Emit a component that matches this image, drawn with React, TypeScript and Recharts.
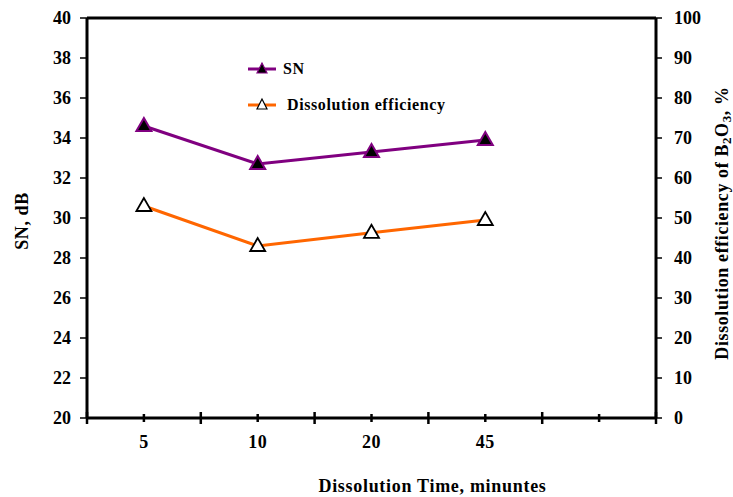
import React from 'react';
import { LineChart, Line, XAxis, YAxis, Legend, ReferenceLine, Label } from 'recharts';

const timeLabels = ['5', '10', '20', '45'];
const snValues = [34.6, 32.7, 33.3, 33.9];
const efficiencyValues = [53, 43, 46.3, 49.5];
const snTicks = [20, 22, 24, 26, 28, 30, 32, 34, 36, 38, 40];
const effTicks = [0, 10, 20, 30, 40, 50, 60, 70, 80, 90, 100];
const slotCount = 5;

const FONT = '"Liberation Serif", "Times New Roman", serif';
const PURPLE = '#800080';
const ORANGE = '#FF6600';

const data = timeLabels.map((t, i) => ({ time: t, pos: i * 2 + 1, sn: snValues[i], eff: efficiencyValues[i] }));
const xTicks = Array.from({ length: slotCount * 2 + 1 }, (_, i) => i);

const Tri = ({ cx, cy, fill, stroke, sw }: any) => (
  <polygon
    points={`${cx},${cy - 8} ${cx - 7.5},${cy + 5} ${cx + 7.5},${cy + 5}`}
    fill={fill}
    stroke={stroke}
    strokeWidth={sw}
    strokeLinejoin="miter"
  />
);

const XTick = (props: any) => {
  const { x, y, payload } = props;
  const v = payload.value;
  const isCenter = v % 2 === 1;
  const label = isCenter ? timeLabels[(v - 1) / 2] ?? '' : '';
  const h = isCenter ? 4 : 6;
  return (
    <g>
      <line x1={x} x2={x} y1={y - h} y2={y + h} stroke="#000" strokeWidth={2.5} />
      {label ? (
        <text x={x} y={y + 30} textAnchor="middle" fontFamily={FONT} fontWeight="bold" fontSize={18} letterSpacing={0.5} fill="#000">
          {label}
        </text>
      ) : null}
    </g>
  );
};

const LegendContent = () => {
  const rows = [
    { name: 'SN', color: PURPLE, fill: '#000', stroke: PURPLE },
    { name: 'Dissolution efficiency', color: ORANGE, fill: '#fff', stroke: '#000' },
  ];
  return (
    <div>
      {rows.map((r, i) => (
        <div key={i} style={{ height: 36, display: 'flex', alignItems: 'center' }}>
          <svg width={36} height={20} style={{ display: 'block' }}>
            <line x1={0} x2={28} y1={10} y2={10} stroke={r.color} strokeWidth={3} />
            <polygon points="14,4 9,14 19,14" fill={r.fill} stroke={r.stroke} strokeWidth={1.2} />
          </svg>
          <span style={{ fontFamily: FONT, fontWeight: 'bold', fontSize: 16, letterSpacing: 0.6, color: '#000', marginLeft: i === 0 ? -1 : 3 }}>
            {r.name}
          </span>
        </div>
      ))}
    </div>
  );
};

const XTitle = (props: any) => {
  const { viewBox } = props;
  const cx = viewBox.x + viewBox.width / 2 + 61;
  return (
    <text x={cx} y={492} textAnchor="middle" fontFamily={FONT} fontWeight="bold" fontSize={18} letterSpacing={0.7} fill="#000">
      Dissolution Time, minuntes
    </text>
  );
};

const LeftTitle = (props: any) => {
  const { viewBox } = props;
  const cx = 22;
  const cy = viewBox.y + viewBox.height / 2 + 3;
  return (
    <text x={cx} y={cy} transform={`rotate(-90, ${cx}, ${cy})`} textAnchor="middle" dominantBaseline="central" fontFamily={FONT} fontWeight="bold" fontSize={18} letterSpacing={0.6} fill="#000">
      SN, dB
    </text>
  );
};

const RightTitle = (props: any) => {
  const { viewBox } = props;
  const cx = 722;
  const cy = viewBox.y + viewBox.height / 2 + 5;
  return (
    <text x={cx} y={cy} transform={`rotate(-90, ${cx}, ${cy})`} textAnchor="middle" dominantBaseline="central" fontFamily={FONT} fontWeight="bold" fontSize={18} letterSpacing={0.6} fill="#000">
      <tspan>Dissolution efficiency of B</tspan>
      <tspan dy={4} fontSize={13}>2</tspan>
      <tspan dy={-4}>O</tspan>
      <tspan dy={4} fontSize={13}>3</tspan>
      <tspan dy={-4}>, %</tspan>
    </text>
  );
};

const tickStyle = { fontFamily: FONT, fontWeight: 'bold' as const, fontSize: 18, fill: '#000' };

export default function App() {
  return (
    <div style={{ position: 'absolute', left: 0, top: 0, width: 733, height: 497, background: '#fff' }}>
      <LineChart width={733} height={497} data={data} margin={{ top: 18, right: 0, bottom: 0, left: 0 }}>
        <XAxis
          dataKey="pos"
          type="number"
          domain={[0, slotCount * 2]}
          ticks={xTicks}
          interval={0}
          tick={<XTick />}
          tickLine={false}
          tickSize={0}
          tickMargin={0}
          axisLine={{ stroke: '#000', strokeWidth: 3 }}
          height={79}
        >
          <Label content={<XTitle />} />
        </XAxis>
        <YAxis
          yAxisId="left"
          domain={[20, 40]}
          ticks={snTicks}
          interval={0}
          width={87}
          tickSize={7}
          tickMargin={9}
          tick={tickStyle}
          tickLine={{ stroke: '#000', strokeWidth: 1.5 }}
          axisLine={{ stroke: '#000', strokeWidth: 3 }}
        >
          <Label content={<LeftTitle />} />
        </YAxis>
        <YAxis
          yAxisId="right"
          orientation="right"
          domain={[0, 100]}
          ticks={effTicks}
          interval={0}
          width={77}
          tickSize={6}
          tickMargin={12}
          tick={{ ...tickStyle, textAnchor: 'start' }}
          tickLine={{ stroke: '#000', strokeWidth: 1.5 }}
          axisLine={{ stroke: '#000', strokeWidth: 3 }}
        >
          <Label content={<RightTitle />} />
        </YAxis>
        <ReferenceLine yAxisId="left" y={40} stroke="#000" strokeWidth={3} />
        <Legend
          layout="vertical"
          verticalAlign="middle"
          align="center"
          content={<LegendContent />}
          wrapperStyle={{ position: 'absolute', left: 248, top: 51, width: 240 }}
        />
        <Line
          yAxisId="left"
          dataKey="sn"
          name="SN"
          stroke={PURPLE}
          strokeWidth={3}
          isAnimationActive={false}
          dot={(p: any) => <Tri key={`sn-${p.index}`} cx={p.cx} cy={p.cy} fill="#000" stroke={PURPLE} sw={2} />}
          activeDot={false}
        />
        <Line
          yAxisId="right"
          dataKey="eff"
          name="Dissolution efficiency"
          stroke={ORANGE}
          strokeWidth={3}
          isAnimationActive={false}
          dot={(p: any) => <Tri key={`eff-${p.index}`} cx={p.cx} cy={p.cy} fill="#fff" stroke="#000" sw={1.8} />}
          activeDot={false}
        />
      </LineChart>
    </div>
  );
}
